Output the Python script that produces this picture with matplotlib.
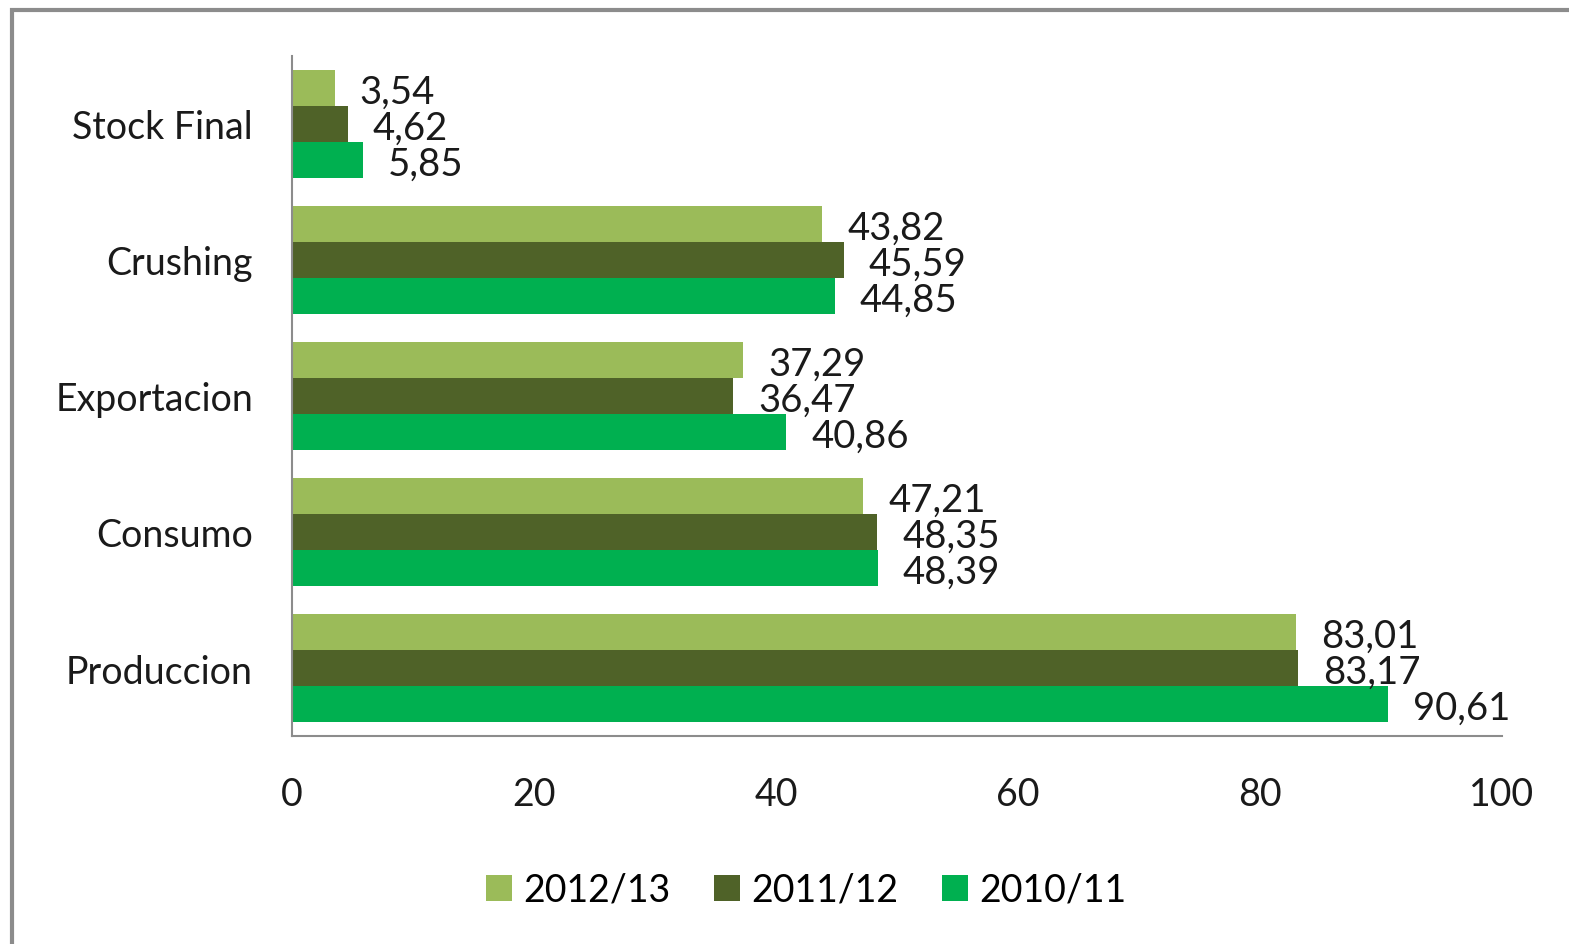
import numpy as np
import matplotlib.pyplot as plt
from matplotlib.patches import Rectangle

plt.rcParams['font.family'] = ['Lato', 'DejaVu Sans']

# Data
categories = ["Produccion", "Consumo", "Exportacion", "Crushing", "Stock Final"]
series_names = ["2012/13", "2011/12", "2010/11"]
v_2012 = [83.01, 47.21, 37.29, 43.82, 3.54]
v_2011 = [83.17, 48.35, 36.47, 45.59, 4.62]
v_2010 = [90.61, 48.39, 40.86, 44.85, 5.85]
colors = ["#9BBB59", "#4F6228", "#00B050"]

fig = plt.figure(figsize=(15.69, 9.45), dpi=100)
ax = fig.add_axes([0.1861, 0.2201, 0.7712, 0.7196])

# outer frame of the chart area
fig.patches.append(Rectangle((12 / 1569, -0.05), 1.2, (945 - 11) / 945 + 0.05,
                             transform=fig.transFigure, fill=False,
                             edgecolor="#8c8c8c", linewidth=3))

y = np.arange(len(categories))
h = 0.265
offsets = [h, 0, -h]
for vals, off, col, name in zip([v_2012, v_2011, v_2010], offsets, colors, series_names):
    bars = ax.barh(y + off, vals, height=h, color=col, label=name)
    for b, v in zip(bars, vals):
        ax.annotate(f"{v:.2f}".replace(".", ","), (b.get_width(), b.get_y() + h / 2),
                    xytext=(18, -3), textcoords="offset points",
                    va="center", ha="left", fontsize=27.5, color="#1a1a1a")

ax.set_xlim(0, 100)
ax.set_ylim(-0.5, len(categories) - 0.5)
ax.set_xticks([0, 20, 40, 60, 80, 100])
ax.set_yticks(y)
ax.set_yticklabels(categories)
ax.tick_params(axis="both", length=0, labelsize=27, colors="#1a1a1a")
ax.tick_params(axis="x", pad=29)
ax.tick_params(axis="y", pad=28)

for s in ["top", "right"]:
    ax.spines[s].set_visible(False)
for s in ["left", "bottom"]:
    ax.spines[s].set_color("#8c8c8c")
    ax.spines[s].set_linewidth(1.5)

ax.legend(loc="upper center", bbox_to_anchor=(0.425, -0.15), ncol=3, frameon=False,
          fontsize=27, handlelength=0.7, handleheight=0.7, handletextpad=0.3,
          columnspacing=1.15)

fig.savefig("out.png", dpi=100, facecolor="white")
